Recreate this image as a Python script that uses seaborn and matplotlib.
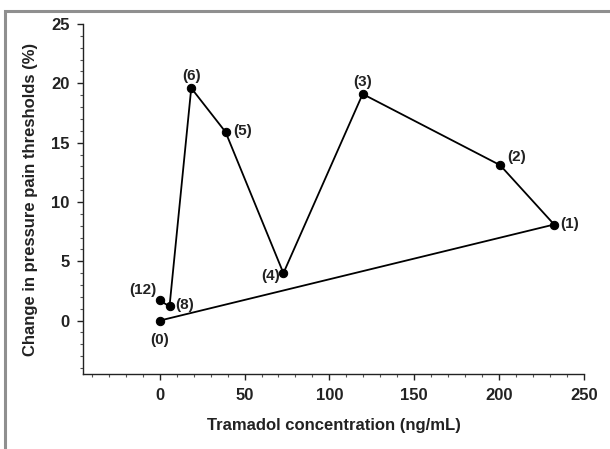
import numpy as np
import pandas as pd
import seaborn as sns
import matplotlib.pyplot as plt
from matplotlib.patches import Rectangle
from matplotlib.ticker import MultipleLocator

# time points (h) and the values
time_labels = ["(0)", "(1)", "(2)", "(3)", "(4)", "(5)", "(6)", "(8)", "(12)"]
conc = [0, 232.4, 200.6, 119.6, 72.9, 38.8, 18.6, 5.8, 0.0]
change = [0.0, 8.1, 13.1, 19.1, 4.0, 15.9, 19.6, 1.2, 1.7]
# where each label sits relative to its point (pixels)
label_offsets = [(0, -19), (15, 1), (16, 8), (0, 12), (-13, -3), (17, 1), (0, 12), (15, 1), (-17, 10)]

df = pd.DataFrame({"conc": conc, "change": change, "label": time_labels})

sns.set_style("ticks")
plt.rcParams['font.family'] = ['Liberation Sans', 'DejaVu Sans']
plt.rcParams['font.weight'] = 'bold'

fig = plt.figure(figsize=(6.1, 4.49), dpi=100)
ax = fig.add_axes([83.3/610, 1-374/449, (584-83.3)/610, (374-24)/449])

sns.lineplot(data=df, x="conc", y="change", sort=False, estimator=None, color="black",
             marker="o", markersize=6, markeredgecolor="black", linewidth=1.3, ax=ax)

for (x, y, lab), (dx, dy) in zip(zip(conc, change, time_labels), label_offsets):
    ax.annotate(lab, (x, y), xytext=(dx, dy), textcoords="offset pixels",
                ha="center", va="center", fontsize=11, fontweight="bold", color="#222222")

ax.set_xlim(-45, 250)
ax.set_ylim(-4.5, 25)
ax.set_xticks([0, 50, 100, 150, 200, 250])
ax.set_yticks([0, 5, 10, 15, 20, 25])
ax.xaxis.set_minor_locator(MultipleLocator(10))
ax.yaxis.set_minor_locator(MultipleLocator(1))
ax.tick_params(which="major", length=4, width=1, pad=6, labelsize=12, colors="#222222")
ax.tick_params(which="minor", length=2.5, width=0.8, color="#555555")
for lab in ax.get_xticklabels() + ax.get_yticklabels():
    lab.set_fontweight("bold")

sns.despine(ax=ax)
for s in ["left", "bottom"]:
    ax.spines[s].set_color("#222222")
    ax.spines[s].set_linewidth(1)

ax.set_xlabel("Tramadol concentration (ng/mL)", fontsize=12, fontweight="bold", labelpad=11, color="#222222")
ax.set_ylabel("Change in pressure pain thresholds (%)", fontsize=12, fontweight="bold", labelpad=9, color="#222222")

# grey frame of the original figure (top and left edges)
fig.add_artist(Rectangle((5/610, -0.1), 1.2, 1.1 - 10.7/449, transform=fig.transFigure,
                         fill=False, edgecolor="#8f8f8f", linewidth=2.2, clip_on=False))

plt.savefig("out.png", dpi=100)
